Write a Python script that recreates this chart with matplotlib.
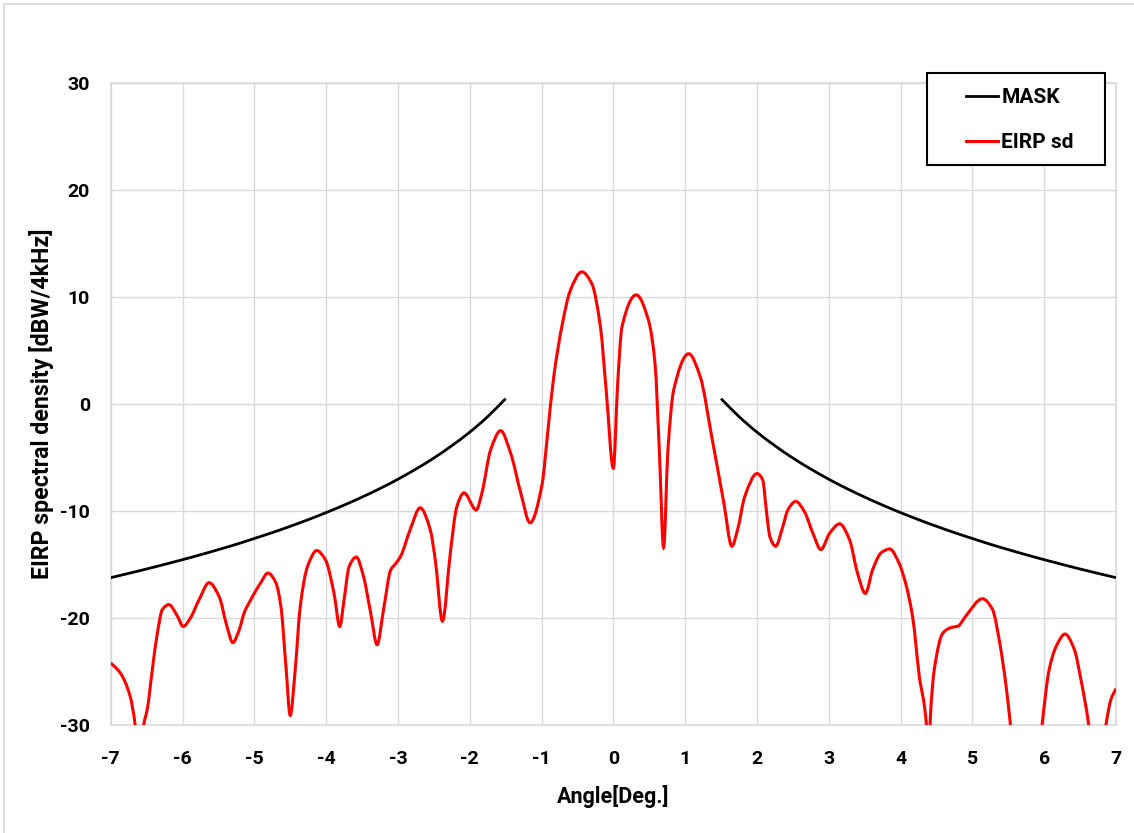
import matplotlib.pyplot as plt
import numpy as np
from matplotlib.path import Path
from matplotlib.patches import PathPatch, Rectangle
from matplotlib.lines import Line2D

plt.rcParams['font.family'] = ['Roboto', 'DejaVu Sans']
plt.rcParams['font.weight'] = 'bold'
plt.rcParams['axes.unicode_minus'] = False

# MASK curve (left and right branches)
mask_angle = [1.5, 1.75, 2.0, 2.25, 2.5, 2.75, 3.0, 3.25, 3.5, 3.75, 4.0, 4.25,
              4.5, 4.75, 5.0, 5.25, 5.5, 5.75, 6.0, 6.25, 6.5, 6.75, 7.0]
mask_value = [0.5, -1.18, -2.63, -3.9, -5.05, -6.08, -7.03, -7.9, -8.7, -9.45, -10.15, -10.81,
              -11.43, -12.02, -12.57, -13.11, -13.61, -14.09, -14.55, -14.99, -15.42, -15.83, -16.23]

# EIRP spectral density
eirp_angle = [-7.00, -6.87, -6.73, -6.66, -6.60, -6.54, -6.49, -6.42, -6.35, -6.28,
              -6.19, -6.07, -5.99, -5.89, -5.77, -5.63, -5.49, -5.38, -5.30, -5.21,
              -5.14, -5.05, -4.91, -4.81, -4.70, -4.63, -4.56, -4.50, -4.43, -4.36,
              -4.26, -4.13, -4.01, -3.89, -3.81, -3.75, -3.68, -3.58, -3.48, -3.38,
              -3.29, -3.20, -3.10, -3.03, -2.96, -2.83, -2.69, -2.55, -2.48, -2.38,
              -2.27, -2.18, -2.08, -1.91, -1.83, -1.71, -1.57, -1.43, -1.29, -1.16,
              -0.99, -0.92, -0.83, -0.71, -0.60, -0.44, -0.30, -0.18, -0.10, 0.00,
              0.06, 0.12, 0.32, 0.49, 0.58, 0.64, 0.70, 0.76, 0.84, 1.05,
              1.21, 1.37, 1.54, 1.65, 1.73, 1.83, 2.00, 2.08, 2.13, 2.18,
              2.26, 2.36, 2.43, 2.54, 2.66, 2.78, 2.89, 3.01, 3.15, 3.29,
              3.40, 3.51, 3.61, 3.73, 3.85, 3.98, 4.08, 4.17, 4.26, 4.36,
              4.39, 4.41, 4.47, 4.59, 4.70, 4.80, 4.91, 5.14, 5.28, 5.38,
              5.47, 5.53, 5.75, 5.97, 6.07, 6.17, 6.29, 6.42, 6.51, 6.62,
              6.74, 6.86, 6.93, 7.00]
eirp_value = [-24.2, -25.1, -27.3, -30.0, -36.0, -30.0, -28.5, -24.8, -21.4, -19.2,
              -18.75, -19.84, -20.8, -20.0, -18.3, -16.7, -18.0, -20.8, -22.3, -21.1,
              -19.5, -18.3, -16.7, -15.8, -16.7, -18.9, -24.5, -29.1, -24.8, -18.9,
              -15.2, -13.7, -14.55, -17.7, -20.8, -18.3, -15.2, -14.3, -16.1, -19.5,
              -22.5, -19.2, -15.5, -14.9, -14.2, -11.75, -9.7, -11.75, -14.55, -20.3,
              -13.9, -9.6, -8.3, -9.9, -8.3, -4.3, -2.5, -4.6, -8.3, -11.1,
              -7.4, -3.05, 2.55, 7.5, 10.6, 12.35, 11.25, 7.2, 1.3, -6.0,
              1.9, 7.2, 10.2, 7.8, 3.8, -4.3, -13.4, -4.3, 1.3, 4.7,
              2.55, -3.05, -9.3, -13.3, -11.75, -8.65, -6.5, -7.1, -9.9, -12.4,
              -13.3, -11.45, -9.9, -9.1, -10.05, -12.1, -13.6, -12.1, -11.2, -12.7,
              -15.8, -17.7, -15.5, -13.9, -13.55, -14.9, -17.0, -20.0, -25.4, -30.0,
              -36.0, -30.0, -24.8, -21.4, -20.9, -20.75, -19.8, -18.2, -19.2, -22.3,
              -26.4, -30.0, -45.0, -30.0, -24.8, -22.6, -21.5, -22.95, -25.7, -30.0,
              -38.0, -30.0, -27.6, -26.6]

x_ticks = [-7, -6, -5, -4, -3, -2, -1, 0, 1, 2, 3, 4, 5, 6, 7]
y_ticks = [-30, -20, -10, 0, 10, 20, 30]


def smooth_path(x, y):
    # smoothed line like Excel's, drawn as cubic Bezier segments (monotone tangents)
    x = np.asarray(x, float)
    y = np.asarray(y, float)
    h = np.diff(x)
    d = np.diff(y) / h
    m = np.zeros_like(x)
    m[0], m[-1] = d[0], d[-1]
    for k in range(1, len(x) - 1):
        if d[k - 1] * d[k] > 0:
            w1 = 2 * h[k] + h[k - 1]
            w2 = h[k] + 2 * h[k - 1]
            m[k] = (w1 + w2) / (w1 / d[k - 1] + w2 / d[k])
    verts = [(x[0], y[0])]
    codes = [Path.MOVETO]
    for i in range(len(x) - 1):
        verts += [(x[i] + h[i] / 3, y[i] + m[i] * h[i] / 3),
                  (x[i + 1] - h[i] / 3, y[i + 1] - m[i + 1] * h[i] / 3),
                  (x[i + 1], y[i + 1])]
        codes += [Path.CURVE4] * 3
    return Path(verts, codes)


fig = plt.figure(figsize=(11.34, 8.33), dpi=100)
ax = fig.add_axes([110.7 / 1134, 1 - 725 / 833, (1116 - 110.7) / 1134, (725 - 83) / 833])

# chart area border (left and top visible)
fig.patches.append(Rectangle((4 / 1134, -0.1), 1.2, 1 - 4 / 833 + 0.1, transform=fig.transFigure,
                             fill=False, edgecolor='#d9d9d9', lw=1.2))

mask_left = [-a for a in mask_angle]
ax.add_patch(PathPatch(smooth_path(mask_left[::-1], mask_value[::-1]), fill=False,
                       edgecolor='black', lw=2.0, zorder=3))
ax.add_patch(PathPatch(smooth_path(mask_angle, mask_value), fill=False,
                       edgecolor='black', lw=2.0, zorder=3))
ax.add_patch(PathPatch(smooth_path(eirp_angle, eirp_value), fill=False,
                       edgecolor='#ff0000', lw=2.2, zorder=4))

ax.set_xlim(-7, 7)
ax.set_ylim(-30, 30)
ax.set_xticks(x_ticks)
ax.set_yticks(y_ticks)
ax.tick_params(length=0, labelsize=14)
ax.tick_params(axis='y', pad=15)
ax.tick_params(axis='x', pad=18)
ax.grid(True, color='#d9d9d9', lw=1.0)
ax.set_axisbelow(True)
for s in ax.spines.values():
    s.set_color('#d9d9d9')
    s.set_linewidth(1.2)

ax.set_xlabel('Angle[Deg.]', fontsize=15.5, fontweight='bold', labelpad=12)
ax.set_ylabel('EIRP spectral density [dBW/4kHz]', fontsize=16.7, fontweight='bold', labelpad=4)

# legend box drawn at its place, entries inside without frame
ax.add_patch(Rectangle((927 / 1134, 1 - 165 / 833), 178 / 1134, 92 / 833,
                       transform=fig.transFigure, clip_on=False, facecolor='white',
                       edgecolor='black', lw=1.5, zorder=5))
handles = [Line2D([], [], color='black', lw=2.0), Line2D([], [], color='#ff0000', lw=2.2)]
leg = ax.legend(handles, ['MASK', 'EIRP sd'], loc='upper left',
                bbox_to_anchor=(966 / 1134, 1 - 88 / 833), bbox_transform=fig.transFigure,
                borderaxespad=0, borderpad=0, fontsize=15, frameon=False,
                labelspacing=1.25, handlelength=1.55, handletextpad=0.15)
leg.set_zorder(6)

fig.savefig('out.png', dpi=100)
